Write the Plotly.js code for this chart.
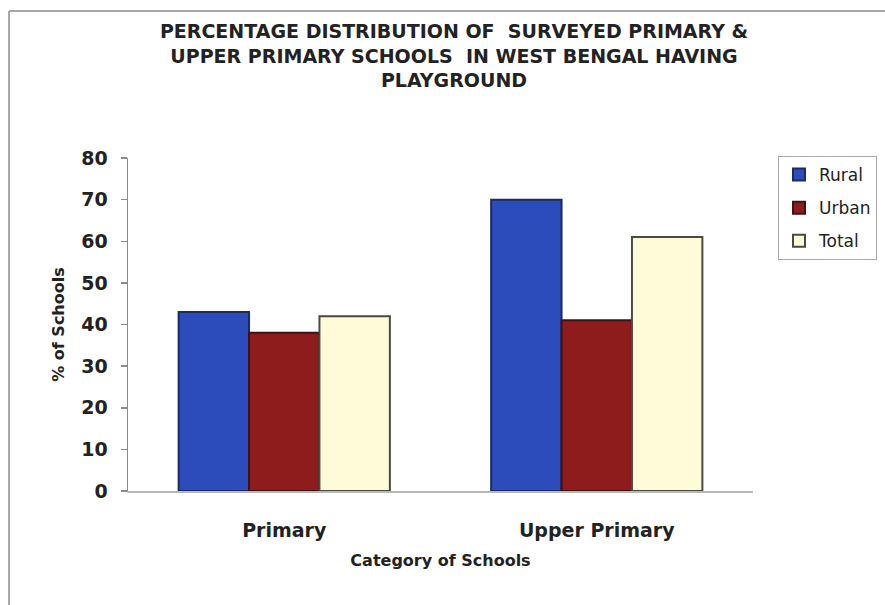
<!DOCTYPE html>
<html>
<head>
<meta charset="utf-8">
<script src="https://cdn.plot.ly/plotly-3.0.1.min.js"></script>
<style>html,body{margin:0;padding:0;background:#fff;}#chart{width:885px;height:605px;}</style>
</head>
<body>
<div id="chart"></div>
<script>
const categories = ["Primary", "Upper Primary"];
const seriesNames = ["Rural", "Urban", "Total"];
const rural = [43, 70];
const urban = [38, 41];
const total = [42, 61];
const yTicks = [0, 10, 20, 30, 40, 50, 60, 70, 80];

const fills = ["#2d4cbc", "#8e1c1c", "#fefcd8"];
const edges = ["#1d2b63", "#3d1212", "#4a4a42"];
const values = [rural, urban, total];

const traces = seriesNames.map((name, i) => ({
  type: "bar",
  name: name,
  legendgroup: "g" + i,
  x: categories,
  y: values[i],
  marker: { color: fills[i], line: { color: edges[i], width: 2 } },
  hoverinfo: "x+y+name"
}));

const L = 128, R = 753, T = 158, B = 491, W = 885, H = 605;
const px2x = p => (p - L) / (R - L);
const py2y = p => (B - p) / (B - T);

const layout = {
  width: W, height: H,
  paper_bgcolor: "#ffffff",
  plot_bgcolor: "#ffffff",
  margin: { l: L, r: W - R, t: T, b: H - B, pad: 0, autoexpand: false },
  font: { family: "DejaVu Sans, Arial, sans-serif", color: "#222" },
  title: {
    text: "PERCENTAGE DISTRIBUTION OF  SURVEYED PRIMARY &amp;<br>UPPER PRIMARY SCHOOLS  IN WEST BENGAL HAVING<br>PLAYGROUND",
    font: { family: "DejaVu Sans, Arial, sans-serif", size: 19, color: "#222", weight: "bold" },
    x: 454 / W, xanchor: "center",
    y: 1 - 38 / H, yanchor: "top", yref: "container"
  },
  barmode: "group",
  bargap: 0.324,
  bargroupgap: 0,
  showlegend: true,
  legend: {
    x: px2x(778), xanchor: "left",
    y: py2y(156), yanchor: "top",
    bgcolor: "#ffffff",
    bordercolor: "#a8a8a8", borderwidth: 1,
    font: { family: "DejaVu Sans, Arial, sans-serif", size: 17, color: "#222" },
    itemwidth: 30,
    tracegroupgap: 8
  },
  xaxis: {
    type: "category",
    showline: true, linecolor: "#b8b8b8", linewidth: 2,
    ticks: "", showgrid: false, zeroline: false,
    tickfont: { family: "DejaVu Sans, Arial, sans-serif", size: 19, color: "#222", weight: "bold" },
    ticklabelstandoff: 21,
    title: {
      text: "Category of Schools",
      font: { family: "DejaVu Sans, Arial, sans-serif", size: 16, color: "#222", weight: "bold" },
      standoff: 15
    }
  },
  yaxis: {
    range: [0, 80],
    tickvals: yTicks,
    ticktext: yTicks.map(String),
    showline: true, linecolor: "#8a8a8a", linewidth: 1.5,
    ticks: "outside", ticklen: 6, tickcolor: "#8a8a8a", tickwidth: 1.5,
    showgrid: false, zeroline: false,
    tickfont: { family: "DejaVu Sans, Arial, sans-serif", size: 19, color: "#222", weight: "bold" },
    ticklabelstandoff: 9,
    title: {
      text: "% of Schools",
      font: { family: "DejaVu Sans, Arial, sans-serif", size: 16, color: "#222", weight: "bold" },
      standoff: 12
    }
  },
  shapes: [
    { type: "line", xref: "paper", yref: "paper", x0: px2x(9), x1: px2x(885), y0: py2y(11), y1: py2y(11), line: { color: "#a8a8a8", width: 2 } },
    { type: "line", xref: "paper", yref: "paper", x0: px2x(9), x1: px2x(9), y0: py2y(11), y1: py2y(605), line: { color: "#a8a8a8", width: 2 } }
  ]
};

Plotly.newPlot("chart", traces, layout, { displayModeBar: false, staticPlot: true });
</script>
</body>
</html>
